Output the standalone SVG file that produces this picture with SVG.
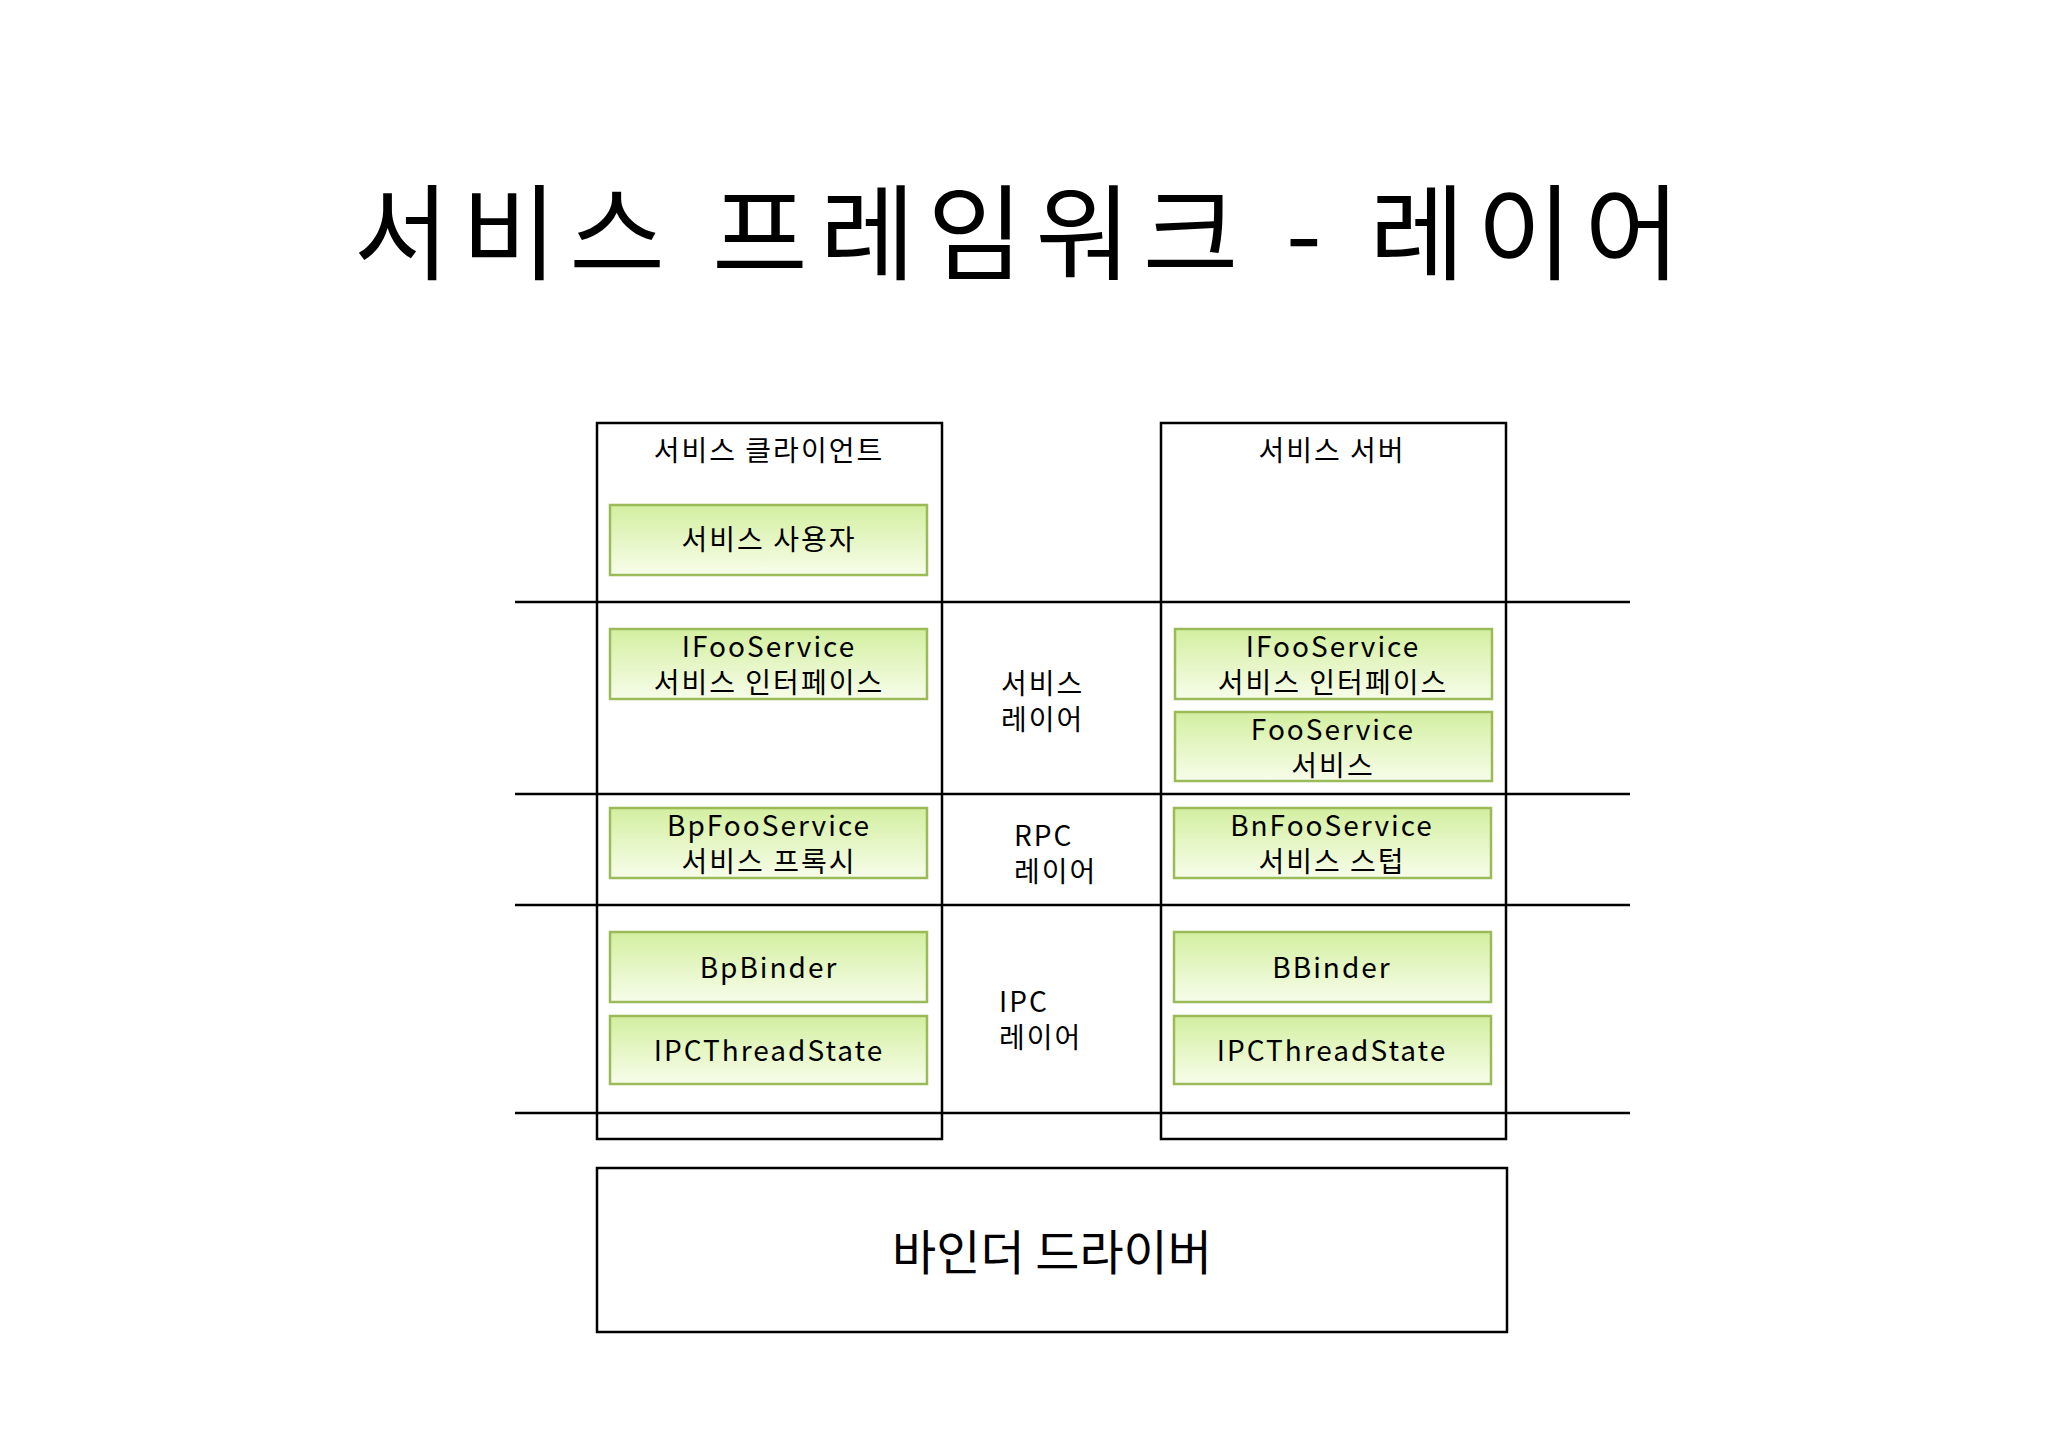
<svg xmlns="http://www.w3.org/2000/svg" width="2048" height="1448" viewBox="0 0 2048 1448">
<style>
text{font-family:"Noto Sans CJK KR","Noto Sans",sans-serif;fill:#000;text-anchor:middle}
.box{fill:none;stroke:#000;stroke-width:2.5}
.g{fill:url(#gr);stroke:#9bbb59;stroke-width:2.5}
.t{font-size:28px;letter-spacing:2px}
.m{font-size:28px;letter-spacing:2px;text-anchor:start}
</style>
<defs><linearGradient id="gr" x1="0" y1="0" x2="0" y2="1"><stop offset="0" stop-color="#d3efa0"/><stop offset="1" stop-color="#f7fdea"/></linearGradient></defs>
<text x="1023" y="272" style="font-size:104px;letter-spacing:12px">서비스 프레임워크 - 레이어</text>
<g id="connectors">
<line x1="515" y1="602" x2="1630" y2="602" stroke="#000" stroke-width="2.5"/>
<line x1="515" y1="794" x2="1630" y2="794" stroke="#000" stroke-width="2.5"/>
<line x1="515" y1="905" x2="1630" y2="905" stroke="#000" stroke-width="2.5"/>
<line x1="515" y1="1113" x2="1630" y2="1113" stroke="#000" stroke-width="2.5"/>
</g>
<g id="client"><rect class="box" x="597" y="423" width="345" height="716"/><text class="t" x="769" y="461">서비스 클라이언트</text></g>
<g id="server"><rect class="box" x="1161" y="423" width="345" height="716"/><text class="t" x="1332" y="461">서비스 서버</text></g>
<g id="user"><rect class="g" x="610" y="505" width="317" height="70"/><text class="t" x="769" y="550">서비스 사용자</text></g>
<g id="ifoo-l"><rect class="g" x="610" y="629" width="317" height="70"/><text class="t" x="769" y="657">IFooService</text><text class="t" x="769" y="693">서비스 인터페이스</text></g>
<g id="bpfoo"><rect class="g" x="610" y="808" width="317" height="70"/><text class="t" x="769" y="836">BpFooService</text><text class="t" x="769" y="872">서비스 프록시</text></g>
<g id="bpbinder"><rect class="g" x="610" y="932" width="317" height="70"/><text class="t" x="769" y="978">BpBinder</text></g>
<g id="ipc-l"><rect class="g" x="610" y="1016" width="317" height="68"/><text class="t" x="769" y="1061">IPCThreadState</text></g>
<g id="ifoo-r"><rect class="g" x="1175" y="629" width="317" height="70"/><text class="t" x="1333" y="657">IFooService</text><text class="t" x="1333" y="693">서비스 인터페이스</text></g>
<g id="fooservice"><rect class="g" x="1175" y="712" width="317" height="69"/><text class="t" x="1333" y="740">FooService</text><text class="t" x="1333" y="776">서비스</text></g>
<g id="bnfoo"><rect class="g" x="1174" y="808" width="317" height="70"/><text class="t" x="1332" y="836">BnFooService</text><text class="t" x="1332" y="872">서비스 스텁</text></g>
<g id="bbinder"><rect class="g" x="1174" y="932" width="317" height="70"/><text class="t" x="1332" y="978">BBinder</text></g>
<g id="ipc-r"><rect class="g" x="1174" y="1016" width="317" height="68"/><text class="t" x="1332" y="1061">IPCThreadState</text></g>
<g id="svc-layer"><text class="m" x="1001" y="694">서비스</text><text class="m" x="1001" y="730">레이어</text></g>
<g id="rpc-layer"><text class="m" x="1014" y="846">RPC</text><text class="m" x="1014" y="882">레이어</text></g>
<g id="ipc-layer"><text class="m" x="999" y="1012">IPC</text><text class="m" x="999" y="1048">레이어</text></g>
<g id="driver"><rect class="box" x="597" y="1168" width="910" height="164"/><text x="1052" y="1270" style="font-size:48px">바인더 드라이버</text></g>
</svg>
